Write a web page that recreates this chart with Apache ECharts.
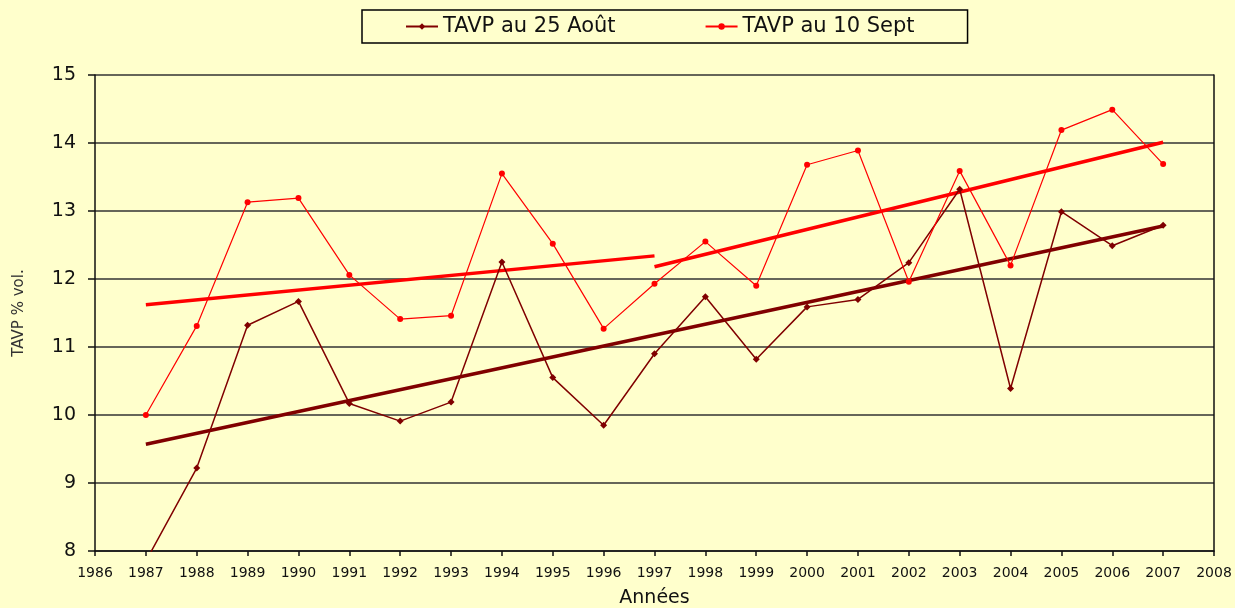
<!DOCTYPE html>
<html>
<head>
<meta charset="utf-8">
<title>TAVP</title>
<script src="https://cdn.jsdelivr.net/npm/echarts@6/dist/echarts.min.js"></script>
<style>
  html, body { margin: 0; padding: 0; background: #FFFFCC; }
  #chart { width: 1235px; height: 608px; }
</style>
</head>
<body>
<div id="chart"></div>
<script>
// Years of measurement
const years = [1987, 1988, 1989, 1990, 1991, 1992, 1993, 1994, 1995, 1996, 1997,
               1998, 1999, 2000, 2001, 2002, 2003, 2004, 2005, 2006, 2007];

// TAVP (% vol.) measured on 25 August
const aout25 = [7.85, 9.22, 11.32, 11.67, 10.17, 9.91, 10.19, 12.25, 10.55, 9.85, 10.90,
                11.74, 10.82, 11.59, 11.70, 12.24, 13.32, 10.39, 12.99, 12.49, 12.79];

// TAVP (% vol.) measured on 10 September
const sept10 = [10.00, 11.31, 13.13, 13.19, 12.06, 11.41, 11.46, 13.55, 12.52, 11.27, 11.93,
                12.55, 11.90, 13.68, 13.89, 11.96, 13.59, 12.20, 14.19, 14.49, 13.69];

// Linear trend end points: [year, value]
const aoutTrend = [[1987, 9.57], [2007, 12.78]];
const septTrendA = [[1987, 11.62], [1997, 12.34]];
const septTrendB = [[1997, 12.18], [2007, 14.01]];

// Axis ranges
const xMin = 1986, xMax = 2008;
const yMin = 8, yMax = 15;

const nameAout = 'TAVP au 25 Août';
const nameSept = 'TAVP au 10 Sept';
const darkRed = '#800000';
const red = '#FF0000';
const font = 'DejaVu Sans';

const pair = (vals) => years.map((y, i) => [y, vals[i]]);

const chart = echarts.init(document.getElementById('chart'), null, { renderer: 'canvas' });

chart.setOption({
  backgroundColor: '#FFFFCC',
  animation: false,
  textStyle: { fontFamily: font, color: '#111' },
  legend: {
    data: [nameAout, nameSept],
    left: 362,
    top: 10,
    padding: [6, 53, 6, 43],
    itemGap: 89,
    itemWidth: 32,
    itemHeight: 8,
    borderColor: '#000',
    borderWidth: 1.5,
    backgroundColor: '#FFFFCC',
    textStyle: { fontFamily: font, fontSize: 21, color: '#111' }
  },
  grid: {
    left: 95, right: 21, top: 75, bottom: 57,
    containLabel: false,
    outerBoundsMode: 'none'
  },
  xAxis: {
    type: 'value',
    min: xMin,
    max: xMax,
    interval: 1,
    name: 'Années',
    nameLocation: 'middle',
    nameGap: 38,
    nameTextStyle: { fontFamily: font, fontSize: 19, color: '#111' },
    axisLine: { show: true, lineStyle: { color: '#111', width: 1.5 } },
    axisTick: { show: true, inside: false, length: 5, lineStyle: { color: '#111', width: 1.5 } },
    axisLabel: { fontFamily: font, fontSize: 14, color: '#111', margin: 15, formatter: (v) => String(v) },
    splitLine: { show: false }
  },
  yAxis: [{
    type: 'value',
    min: yMin,
    max: yMax,
    interval: 1,
    name: 'TAVP % vol.',
    nameLocation: 'middle',
    nameGap: 68,
    nameTextStyle: { fontFamily: font, fontSize: 15, color: '#333' },
    axisLine: { show: true, lineStyle: { color: '#111', width: 1.5 } },
    axisTick: { show: true, inside: false, length: 7, lineStyle: { color: '#111', width: 1.5 } },
    axisLabel: { fontFamily: font, fontSize: 19, color: '#111', margin: 19 },
    splitLine: { show: true, lineStyle: { color: '#333', width: 1.5 } }
  }, {
    type: 'value',
    position: 'right',
    min: yMin,
    max: yMax,
    interval: 1,
    axisLine: { show: true, lineStyle: { color: '#111', width: 1.5 } },
    axisTick: { show: false },
    axisLabel: { show: false },
    splitLine: { show: false }
  }],
  series: [
    {
      name: nameAout,
      type: 'line',
      data: pair(aout25),
      clip: true,
      symbol: 'diamond',
      symbolSize: 7,
      itemStyle: { color: darkRed },
      lineStyle: { color: darkRed, width: 1.5 },
      z: 3
    },
    {
      name: nameSept,
      type: 'line',
      data: pair(sept10),
      clip: true,
      symbol: 'circle',
      symbolSize: 6,
      itemStyle: { color: red },
      lineStyle: { color: red, width: 1.2 },
      z: 3
    },
    {
      name: 'trend-aout',
      type: 'line',
      data: aoutTrend,
      symbol: 'none',
      lineStyle: { color: darkRed, width: 3.5 },
      silent: true,
      z: 2
    },
    {
      name: 'trend-sept-a',
      type: 'line',
      data: septTrendA,
      symbol: 'none',
      lineStyle: { color: red, width: 3.5 },
      silent: true,
      z: 2
    },
    {
      name: 'trend-sept-b',
      type: 'line',
      data: septTrendB,
      symbol: 'none',
      lineStyle: { color: red, width: 3.5 },
      silent: true,
      z: 2
    }
  ]
});
</script>
</body>
</html>
